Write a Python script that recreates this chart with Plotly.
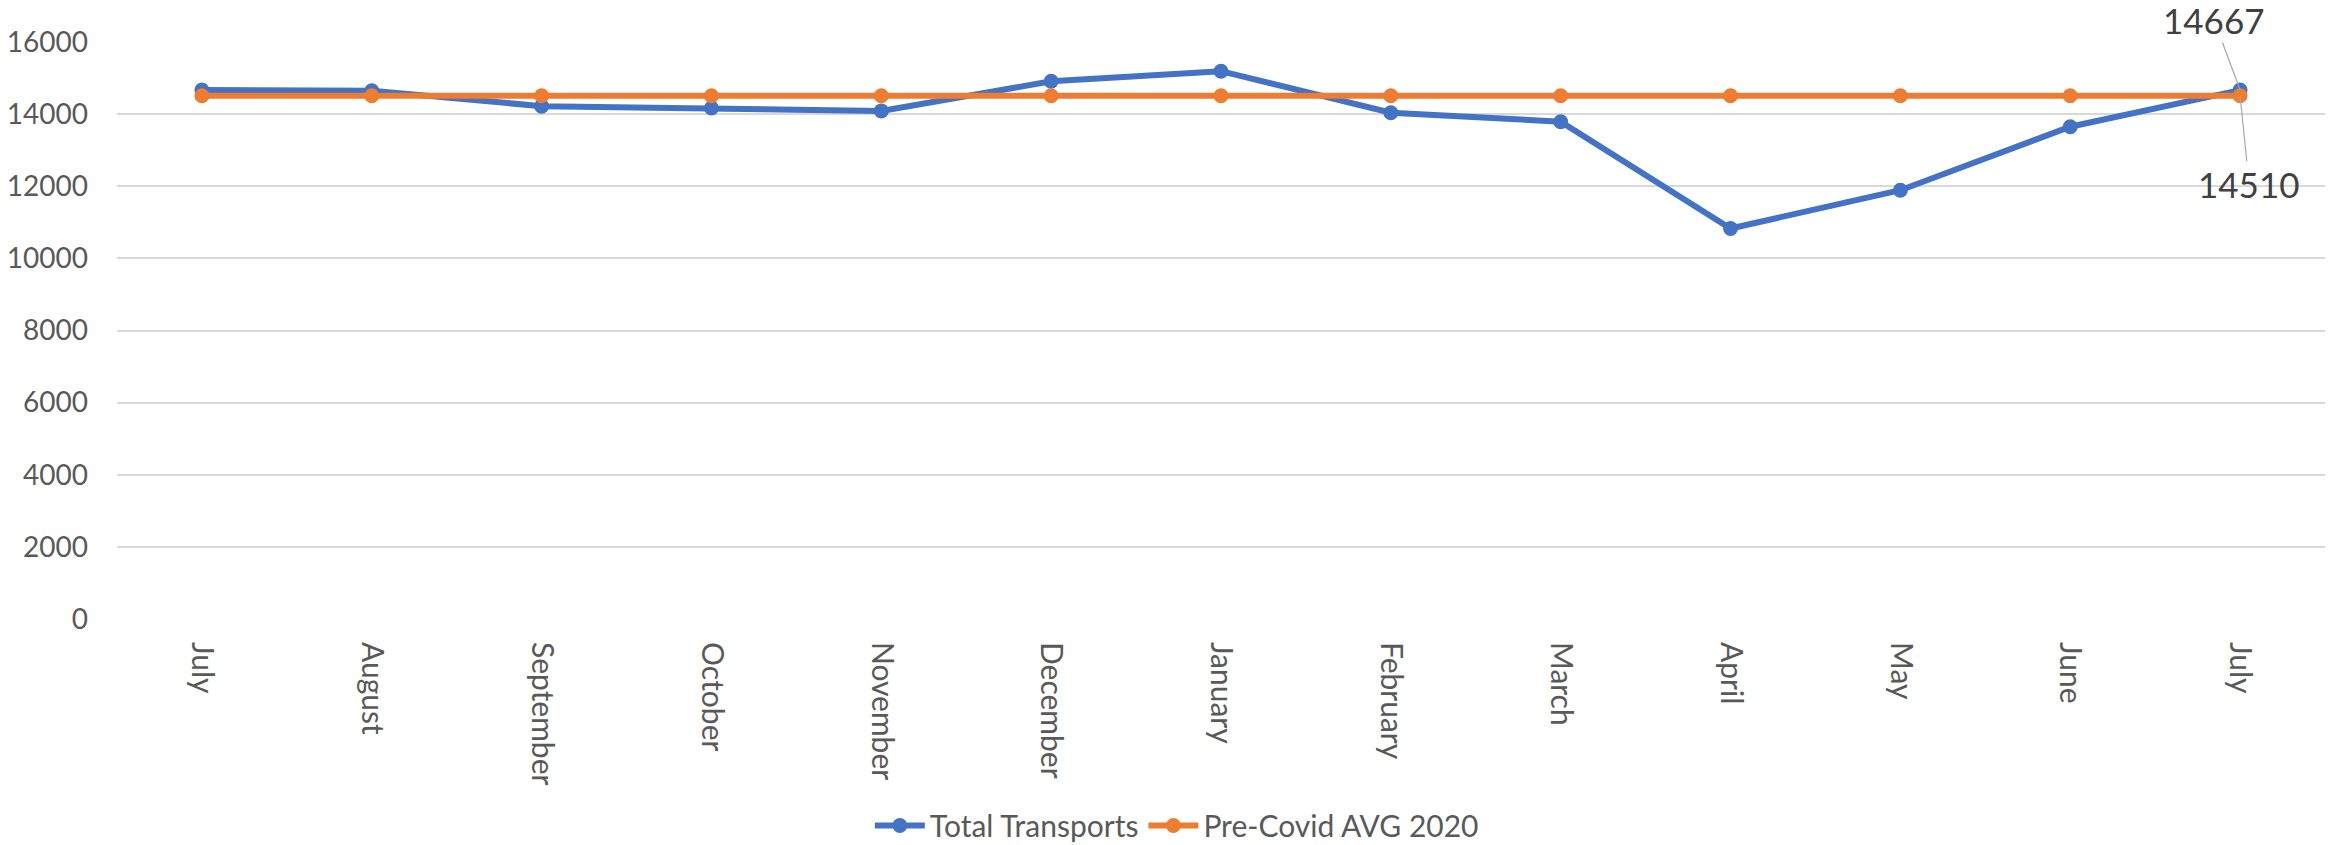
import plotly.graph_objects as go

months = ["July", "August", "September", "October", "November", "December",
          "January", "February", "March", "April", "May", "June", "July"]
total_transports = [14667, 14650, 14220, 14170, 14090, 14910, 15190,
                    14040, 13790, 10830, 11890, 13650, 14667]
pre_covid_avg = [14510] * 13
y_ticks = [0, 2000, 4000, 6000, 8000, 10000, 12000, 14000, 16000]

x = list(range(len(months)))
FONT = "Lato, 'Open Sans', sans-serif"
BLUE = "#4472C4"
ORANGE = "#ED7D31"

fig = go.Figure()
fig.add_trace(go.Scatter(
    x=x, y=total_transports, name="Total Transports", mode="lines+markers",
    line=dict(color=BLUE, width=6), marker=dict(color=BLUE, size=15)))
fig.add_trace(go.Scatter(
    x=x, y=pre_covid_avg, name="Pre-Covid AVG 2020", mode="lines+markers",
    line=dict(color=ORANGE, width=6), marker=dict(color=ORANGE, size=15)))

last = len(months) - 1
fig.add_annotation(x=x[last], y=total_transports[last], text=str(total_transports[last]),
                   showarrow=True, arrowhead=0, arrowwidth=1.2, arrowcolor="#A6A6A6",
                   ax=-26, ay=-70, standoff=0,
                   font=dict(family=FONT, size=35, color="#404040"))
fig.add_annotation(x=x[last], y=pre_covid_avg[last], text=str(pre_covid_avg[last]),
                   showarrow=True, arrowhead=0, arrowwidth=1.2, arrowcolor="#A6A6A6",
                   ax=9, ay=88, standoff=0,
                   font=dict(family=FONT, size=35, color="#404040"))

fig.update_layout(
    width=2330, height=845,
    margin=dict(l=117, r=5, t=42, b=226, autoexpand=False),
    paper_bgcolor="white", plot_bgcolor="white",
    font=dict(family=FONT, size=30, color="#595959"),
    showlegend=True,
    legend=dict(orientation="h", x=0.48, xanchor="center", y=-0.358, yanchor="middle",
                font=dict(family=FONT, size=30, color="#595959"),
                itemwidth=50, tracegroupgap=0),
)
fig.update_xaxes(
    tickmode="array", tickvals=x, ticktext=months, tickangle=90,
    range=[-0.5, len(months) - 0.5], showgrid=False, zeroline=False,
    showline=False, ticks="", ticklabelstandoff=22, automargin=False,
    tickfont=dict(family=FONT, size=30, color="#595959"))
fig.update_yaxes(
    range=[0, 16000], tickmode="array", tickvals=y_ticks,
    ticktext=[str(v) for v in y_ticks],
    showgrid=True, gridcolor="#D9D9D9", gridwidth=1.5, zeroline=False,
    showline=False, ticks="", ticklabelstandoff=28, automargin=False,
    tickfont=dict(family=FONT, size=28, color="#595959"))

fig.write_html("out.html", config={"displayModeBar": False},
               post_script="document.body.style.margin='0';document.body.style.overflow='hidden';")
